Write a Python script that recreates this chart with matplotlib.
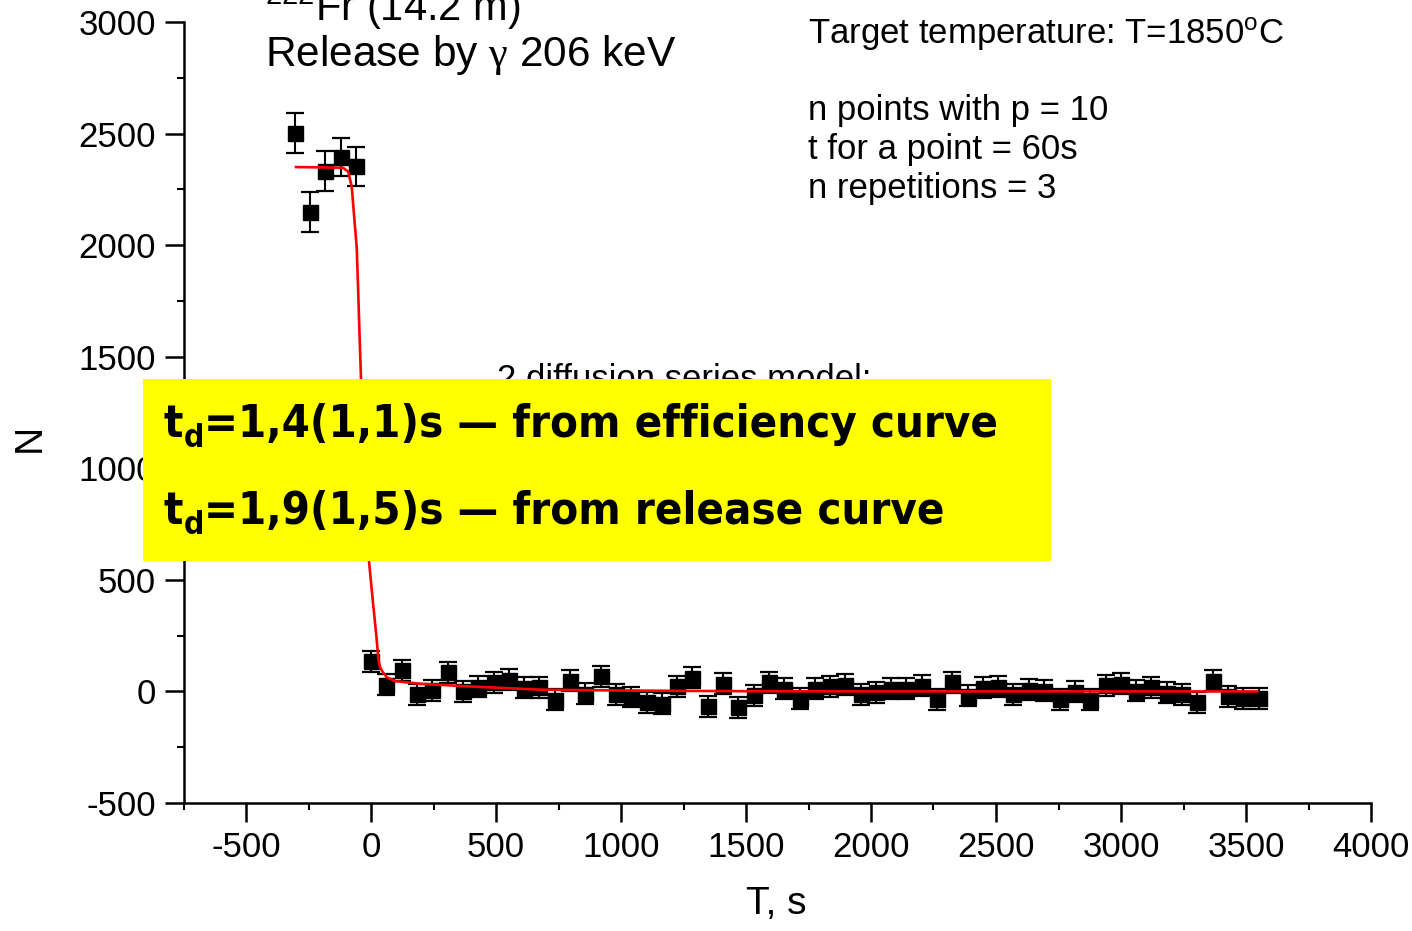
import matplotlib
matplotlib.use("Agg")
import matplotlib.pyplot as plt
from matplotlib import font_manager as fm
from matplotlib.patches import Rectangle

plt.rcParams["font.family"] = ["Liberation Sans", "DejaVu Sans"]
plt.rcParams["axes.unicode_minus"] = False
plt.rcParams["mathtext.fontset"] = "custom"
plt.rcParams["mathtext.rm"] = "Liberation Serif"
plt.rcParams["mathtext.sf"] = "Liberation Sans"

# measured counts before the heating step (t < 0)
t_before = [-306, -245, -184, -122, -61]
n_before = [2503, 2147, 2332, 2393, 2354]
err_before = [90, 90, 88, 85, 88]

# counts after the step, one point per 60 s measurement
t_after = [0, 61, 122, 184, 245, 306, 367, 428, 490, 551,
           612, 673, 734, 796, 857, 918, 979, 1040, 1102, 1163,
           1224, 1285, 1346, 1408, 1469, 1530, 1591, 1652, 1714, 1775,
           1836, 1897, 1958, 2020, 2081, 2142, 2203, 2264, 2326, 2387,
           2448, 2509, 2570, 2632, 2693, 2754, 2815, 2876, 2938, 2999,
           3060, 3121, 3182, 3244, 3305, 3366, 3427, 3488, 3550]
n_after = [135, 30, 94, -12, 6, 87, 0, 22, 42, 52,
           17, 19, -37, 48, -10, 67, -13, -25, -48, -55,
           24, 61, -67, 35, -72, -18, 42, 12, -33, 12,
           24, 31, -13, -4, 12, 12, 26, -34, 42, -19,
           16, 22, -13, 8, 3, -34, -1, -37, 27, 34,
           4, 18, -6, -12, -48, 47, -22, -31, -31]
err_after = [47] * len(t_after)

# 2-diffusion-series model fit
fit_t = [-300, -112, -91, -77, -64, -57, -50, -45, -40, -30, -20, -8, 0, 10,
         20, 26, 30, 36, 45, 63, 96, 200, 400, 676, 1000, 1500, 2000, 2500,
         3000, 3545]
fit_n = [2350, 2347, 2329, 2261, 2082, 1987, 1750, 1570, 1400, 1120, 860,
         583, 490, 375, 265, 190, 140, 110, 90, 64, 46, 34, 22, 8, 4, 1, 0,
         0, 0, 0]

result_lines = [
    ("=1,4(1,1)s \u2014 from efficiency curve", 435),
    ("=1,9(1,5)s \u2014 from release curve", 522),
]


def narrow_bold_font():
    """Prefer a narrow/condensed bold sans, else plain bold."""
    for fe in fm.fontManager.ttflist:
        if fe.name == "Liberation Sans Narrow" and fe.weight in (700, "bold") \
                and "italic" not in fe.style:
            return fe.fname
    for fe in fm.fontManager.ttflist:
        if fe.name == "DejaVu Sans" and "Condensed" in fe.fname \
                and "Bold" in fe.fname and "Oblique" not in fe.fname:
            return fe.fname
    return fm.findfont(fm.FontProperties(family="Liberation Sans",
                                         weight="bold"))


W, H = 1412, 931
fig = plt.figure(figsize=(W / 100, H / 100), dpi=100)
ax = fig.add_axes([183.5 / W, 1 - 803 / H, 1187.5 / W, 781 / H])

t_all = t_before + t_after
n_all = n_before + n_after
e_all = err_before + err_after
ax.errorbar(t_all, n_all, yerr=e_all, fmt="none", ecolor="black",
            elinewidth=1.5, capsize=6.5, capthick=1.6, zorder=2)
ax.plot(t_all, n_all, "s", color="black", markersize=10.8, zorder=3)
ax.plot(fit_t, fit_n, color="red", lw=1.9, zorder=4)

ax.set_xlim(-750, 4000)
ax.set_ylim(-500, 3000)
ax.set_xticks(range(-500, 4001, 500))
ax.set_yticks(range(-500, 3001, 500))
ax.set_xticks(range(-750, 4001, 250), minor=True)
ax.set_yticks(range(-500, 3001, 250), minor=True)
ax.tick_params(which="major", direction="out", length=14, width=1.8,
               labelsize=25, pad=6)
ax.tick_params(which="minor", direction="out", length=5, width=1.5)

for side in ("top", "right"):
    ax.spines[side].set_visible(False)
for side in ("left", "bottom"):
    ax.spines[side].set_linewidth(1.8)

ax.set_xlabel("T, s", fontsize=28)
ax.set_ylabel("N", fontsize=28)
ax.xaxis.set_label_coords((776 - 183.5) / 1187.5, (803 - 886) / 781)
ax.yaxis.set_label_coords((48 - 183.5) / 1187.5, (803 - 438) / 781)


def ftext(x, y, s, **kw):
    return fig.text(x / W, 1 - y / H, s, **kw)


ftext(265, 21, r"$\mathsf{^{222}}$Fr (14.2 m)", fontsize=30, va="baseline")
ftext(265, 66, r"Release by $\mathrm{\gamma}$ 206 keV", fontsize=30.5,
      va="baseline")

ftext(808, 44, r"Target temperature: T=1850$\mathsf{^{o}}$C", fontsize=25,
      va="baseline")
ftext(808, 120, "n points with p = 10", fontsize=25, va="baseline")
ftext(808, 159, "t for a point = 60s", fontsize=25, va="baseline")
ftext(808, 198, "n repetitions = 3", fontsize=25, va="baseline")
ftext(497, 389, "2 diffusion series model:", fontsize=25, va="baseline")

# highlighted result box on top of the plot
box = Rectangle((143 / W, 1 - 561 / H), (1051 - 143) / W, (561 - 379) / H,
                transform=fig.transFigure, facecolor="#ffff00",
                edgecolor="none", zorder=10)
fig.patches.append(box)

bold_path = narrow_bold_font()
renderer = fig.canvas.get_renderer()


def result_line(x, y, rest, size):
    """t with subscript d, then the rest of the line; returns texts, right x."""
    fp = fm.FontProperties(fname=bold_path, size=size)
    fps = fm.FontProperties(fname=bold_path, size=size * 0.7)
    pieces = []
    t1 = ftext(x, y, "t", fontproperties=fp, va="baseline", zorder=11)
    pieces.append(t1)
    x1 = t1.get_window_extent(renderer).x1 + 1
    t2 = ftext(x1, y + size * 0.32, "d", fontproperties=fps, va="baseline",
               zorder=11)
    pieces.append(t2)
    x2 = t2.get_window_extent(renderer).x1
    t3 = ftext(x2, y, rest, fontproperties=fp, va="baseline", zorder=11)
    pieces.append(t3)
    return pieces, t3.get_window_extent(renderer).x1


# size the box text so the first line nearly fills the box
trial, right = result_line(163, 437, result_lines[0][0], 42)
size = 42 * (1000 - 163) / (right - 163)
for p in trial:
    p.remove()
for rest, yb in result_lines:
    result_line(163, yb + 2, rest, size)

fig.savefig("out.png", dpi=100)
